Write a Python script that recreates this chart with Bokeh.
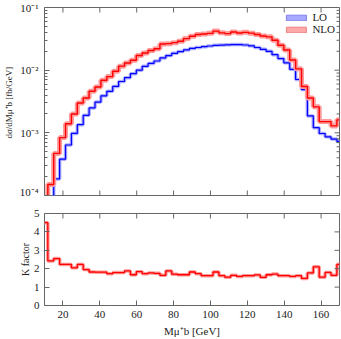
import math
from bokeh.plotting import figure
from bokeh.layouts import column
from bokeh.models import (FixedTicker, CustomJSTickFormatter, Range1d, Legend, LegendItem,
                          ColumnDataSource)
from bokeh.embed import file_html
from bokeh.resources import INLINE

# ---------------- data ----------------
bin_edges = [10.0, 11.8, 15.0, 18.2, 21.4, 24.6, 27.8, 31.0, 34.2, 37.4, 40.6, 43.8,
             47.0, 50.2, 53.4, 56.6, 59.8, 63.0, 66.2, 69.4, 72.6, 75.8, 79.0, 82.2,
             85.4, 88.6, 91.8, 95.0, 98.2, 101.4, 104.6, 107.8, 111.0, 114.2, 117.4,
             120.6, 123.8, 127.0, 130.2, 133.4, 136.6, 139.8, 143.0, 146.2, 149.4,
             152.6, 155.8, 159.0, 162.2, 165.4, 168.6, 170.0]

lo = [1.3e-5, 6.2e-5, 1.84e-4, 3.8e-4, 6.4e-4, 9.8e-4, 1.35e-3, 1.9e-3, 2.5e-3, 3.1e-3,
      3.9e-3, 4.6e-3, 5.5e-3, 6.6e-3, 7.6e-3, 8.8e-3, 1.0e-2, 1.15e-2, 1.28e-2, 1.4e-2,
      1.57e-2, 1.71e-2, 1.86e-2, 1.98e-2, 2.1e-2, 2.22e-2, 2.3e-2, 2.37e-2, 2.43e-2,
      2.49e-2, 2.51e-2, 2.54e-2, 2.56e-2, 2.56e-2, 2.52e-2, 2.45e-2, 2.3e-2, 2.15e-2,
      2.0e-2, 1.77e-2, 1.53e-2, 1.31e-2, 1.03e-2, 7.1e-3, 4.9e-3, 1.86e-3, 1.21e-3,
      9.75e-4, 8.65e-4, 7.95e-4, 7.28e-4]

nlo = [6.0e-5, 1.5e-4, 4.7e-4, 8.4e-4, 1.4e-3, 2.0e-3, 3.0e-3, 3.6e-3, 4.6e-3, 5.4e-3,
       6.9e-3, 7.9e-3, 9.6e-3, 1.16e-2, 1.3e-2, 1.44e-2, 1.71e-2, 1.88e-2, 2.06e-2,
       2.2e-2, 2.61e-2, 2.65e-2, 2.75e-2, 2.9e-2, 3.19e-2, 3.47e-2, 3.7e-2, 3.77e-2,
       3.87e-2, 4.2e-2, 3.94e-2, 3.83e-2, 4.06e-2, 3.91e-2, 4.01e-2, 3.9e-2, 3.7e-2,
       3.5e-2, 3.4e-2, 3.0e-2, 2.5e-2, 2.1e-2, 1.45e-2, 1.05e-2, 5.5e-3, 3.6e-3,
       2.6e-3, 1.51e-3, 1.51e-3, 1.29e-3, 1.61e-3]

kfac = [4.5, 2.42, 2.55, 2.23, 2.23, 2.05, 2.23, 1.95, 1.82, 1.81, 1.81, 1.73, 1.79,
        1.79, 1.88, 1.67, 1.84, 1.73, 1.77, 1.75, 1.64, 1.88, 1.70, 1.67, 1.67, 1.82,
        1.73, 1.62, 1.62, 1.82, 1.62, 1.54, 1.64, 1.58, 1.62, 1.62, 1.66, 1.53, 1.67,
        1.71, 1.62, 1.62, 1.58, 1.62, 1.47, 1.77, 2.10, 1.54, 1.80, 1.64, 2.23]

x_ticks = [20, 40, 60, 80, 100, 120, 140, 160]
x_tick_labels = ["20", "40", "60", "80", "100", "120", "140", "160"]
y_ticks_top = [1e-4, 1e-3, 1e-2, 1e-1]
y_tick_labels_top = ["10⁻⁴", "10⁻³", "10⁻²", "10⁻¹"]
k_ticks = [0, 1, 2, 3, 4, 5]
series_names = ["LO", "NLO"]

X_MIN, X_MAX = 10, 170
Y_MIN, Y_MAX = 1e-4, 1e-1
K_MIN, K_MAX = 0, 5

# ---------------- style ----------------
FONT = "Liberation Serif"
AX = "#666666"
TXT = "#222222"
RED, RED_BAND = "#ff0000", "#ff9a9a"
BLUE, BLUE_BAND = "#0000ff", "#9a9aff"

minor_log = [m * 10.0 ** e for e in (-4, -3, -2) for m in range(2, 10)]
log_ticker = FixedTicker(ticks=y_ticks_top, minor_ticks=minor_log)
x_ticker = FixedTicker(ticks=x_ticks)
k_ticker = FixedTicker(ticks=k_ticks)

x_fmt = CustomJSTickFormatter(args=dict(t=x_ticks, l=x_tick_labels),
                              code="const i = t.indexOf(tick); return i >= 0 ? l[i] : '';")
y_fmt = CustomJSTickFormatter(args=dict(t=y_ticks_top, l=y_tick_labels_top),
                              code="for (let i = 0; i < t.length; i++) { if (Math.abs(Math.log10(t[i]) - Math.log10(tick)) < 1e-6) return l[i]; } return '';")


def style_axis(ax, minor=False):
    ax.axis_line_color = None
    ax.major_tick_line_color = AX
    ax.major_tick_in = 5
    ax.major_tick_out = 0
    if minor:
        ax.minor_tick_line_color = AX
        ax.minor_tick_in = 3
        ax.minor_tick_out = 0
    else:
        ax.minor_tick_line_color = None
    ax.major_label_text_font = FONT
    ax.major_label_text_font_size = "10px"
    ax.major_label_text_color = TXT
    ax.axis_label_text_font = FONT
    ax.axis_label_text_font_size = "10px"
    ax.axis_label_text_color = TXT
    ax.axis_label_text_font_style = "normal"


def mirror_ticks(p, xs, y_edge, angle, length):
    p.ray(x=xs, y=[y_edge] * len(xs), length=length, angle=angle,
          length_units="screen", line_color=AX, line_width=1)


def mirror_yticks(p, ys, x_edge, length):
    p.ray(x=[x_edge] * len(ys), y=ys, length=length, angle=math.pi,
          length_units="screen", line_color=AX, line_width=1)


# ---------------- top panel ----------------
top = figure(width=341, height=197, x_range=Range1d(X_MIN, X_MAX), y_range=Range1d(Y_MIN, Y_MAX),
             y_axis_type="log", output_backend="svg", toolbar_location=None,
             min_border_left=44, min_border_right=2, min_border_top=7, min_border_bottom=2)
top.outline_line_color = AX
top.xgrid.visible = False
top.ygrid.visible = False
top.xaxis.visible = False

lo_y = lo + [lo[-1]]
nlo_y = nlo + [nlo[-1]]
top.step(bin_edges, lo_y, mode="after", line_color=BLUE_BAND, line_width=3.5, line_alpha=0.8)
top.step(bin_edges, lo_y, mode="after", line_color=BLUE, line_width=1.2)
top.step(bin_edges, nlo_y, mode="after", line_color=RED_BAND, line_width=5)
top.step(bin_edges, nlo_y, mode="after", line_color=RED, line_width=1.4)

mirror_ticks(top, x_ticks, Y_MAX, -math.pi / 2, 5)
mirror_ticks(top, x_ticks, Y_MIN, math.pi / 2, 5)
mirror_yticks(top, y_ticks_top, X_MAX, 5)
mirror_yticks(top, minor_log, X_MAX, 3)

# legend-only boxes (a single zero-size quad lying below the visible y-range)
lo_src = ColumnDataSource(dict(l=[bin_edges[0]], r=[bin_edges[0]], t=[lo[0]], b=[lo[0]]))
nlo_src = ColumnDataSource(dict(l=[bin_edges[0]], r=[bin_edges[0]], t=[nlo[0]], b=[nlo[0]]))
leg_lo = top.quad(left="l", right="r", top="t", bottom="b", source=lo_src,
                  fill_color="#a8a8ff", line_color="#8080f0")
leg_nlo = top.quad(left="l", right="r", top="t", bottom="b", source=nlo_src,
                   fill_color="#ffa8a8", line_color="#f08080")
legend = Legend(items=[LegendItem(label=series_names[0], renderers=[leg_lo]),
                       LegendItem(label=series_names[1], renderers=[leg_nlo])],
                location="top_right", border_line_color=None, background_fill_alpha=0,
                label_text_font=FONT, label_text_font_size="11px", label_text_color=TXT,
                glyph_width=25, glyph_height=7, spacing=0, padding=2, margin=4,
                label_height=8, label_standoff=4)
top.add_layout(legend)

top.yaxis.ticker = log_ticker
top.yaxis.formatter = y_fmt
top.yaxis.axis_label = "dσ/dMμ⁺b  [fb/GeV]"
top.yaxis.major_label_standoff = 6
top.yaxis.axis_label_standoff = 3
style_axis(top.yaxis[0], minor=True)
top.yaxis.major_label_text_font_size = "11px"
top.yaxis.axis_label_text_font_size = "9px"

# ---------------- bottom panel ----------------
bot = figure(width=341, height=142, x_range=top.x_range, y_range=Range1d(K_MIN, K_MAX),
             output_backend="svg", toolbar_location=None,
             min_border_left=44, min_border_right=2, min_border_top=16, min_border_bottom=32)
bot.outline_line_color = AX
bot.xgrid.visible = False
bot.ygrid.visible = False

k_y = kfac + [kfac[-1]]
bot.step(bin_edges, k_y, mode="after", line_color=RED_BAND, line_width=3.5)
bot.step(bin_edges, k_y, mode="after", line_color=RED, line_width=1.3)

mirror_ticks(bot, x_ticks, K_MAX, -math.pi / 2, 5)
mirror_yticks(bot, k_ticks, X_MAX, 5)

bot.yaxis.ticker = k_ticker
bot.yaxis.axis_label = "K factor"
bot.yaxis.major_label_standoff = 5
bot.yaxis.axis_label_standoff = 0
style_axis(bot.yaxis[0])
bot.yaxis.major_label_text_font_size = "11px"
bot.xaxis.ticker = x_ticker
bot.xaxis.formatter = x_fmt
bot.xaxis.axis_label = "Mμ⁺b [GeV]"
bot.xaxis.major_label_standoff = 5
bot.xaxis.axis_label_standoff = 4
style_axis(bot.xaxis[0])
bot.xaxis.major_label_text_font_size = "11px"
bot.xaxis.axis_label_text_font_size = "11px"

layout = column(top, bot, spacing=0)
open("out.html", "w").write(file_html(layout, INLINE))
